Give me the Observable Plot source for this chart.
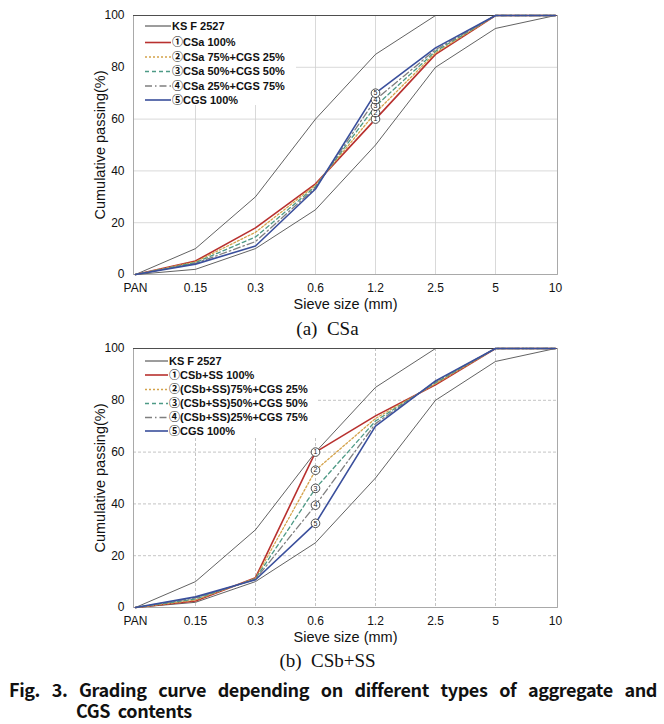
<!DOCTYPE html>
<html>
<head>
<meta charset="utf-8">
<script src="https://cdn.jsdelivr.net/npm/d3@7"></script>
<script src="https://cdn.jsdelivr.net/npm/@observablehq/plot@0.6"></script>
<style>
  html, body { margin: 0; padding: 0; background: #fff; }
  body { width: 664px; height: 724px; position: relative; overflow: hidden; }
  .abs { position: absolute; }
  .sub { font-family: "Liberation Serif", "Times New Roman", serif; font-size: 19px; color: #111; white-space: pre; }
  .cap { font-family: "Noto Sans CJK KR", "Noto Sans", sans-serif; font-weight: bold; font-size: 18px;
         line-height: 21px; color: #111; letter-spacing: -0.4px; }
</style>
</head>
<body>
<div id="panelA" class="abs" style="left:0;top:0"></div>
<div id="panelB" class="abs" style="left:0;top:333px"></div>
<div id="subA" class="abs sub" style="left:0;top:318px;width:655px;text-align:center">(a)  CSa</div>
<div id="subB" class="abs sub" style="left:0;top:650px;width:655px;text-align:center">(b)  CSb+SS</div>
<div id="cap1" class="abs cap" style="left:9px;top:679px;width:648px;text-align:justify;text-align-last:justify"></div>
<div id="cap2" class="abs cap" style="left:76px;top:700px;word-spacing:4px"></div>
<script>
// ---- data ----
const sieves = ["PAN", "0.15", "0.3", "0.6", "1.2", "2.5", "5", "10"];
const yTicks = [0, 20, 40, 60, 80, 100];
const ksLower = [0, 2, 10, 25, 50, 80, 95, 100];
const ksUpper = [0, 10, 30, 60, 85, 100, 100, 100];
const ksName = "KS F 2527";

const csaNames = ["①CSa 100%", "②CSa 75%+CGS 25%", "③CSa 50%+CGS 50%", "④CSa 25%+CGS 75%", "⑤CGS 100%"];
const csa1 = [0, 5.2, 18, 35, 60, 85, 100, 100];
const csa2 = [0, 4.9, 16.3, 34.5, 62.5, 85.6, 100, 100];
const csa3 = [0, 4.6, 14.5, 34, 65, 86.2, 100, 100];
const csa4 = [0, 4.3, 12.7, 33.5, 67.5, 86.8, 100, 100];
const csa5 = [0, 4, 11, 33, 70, 87.5, 100, 100];

const csbNames = ["①CSb+SS 100%", "②(CSb+SS)75%+CGS 25%", "③(CSb+SS)50%+CGS 50%", "④(CSb+SS)25%+CGS 75%", "⑤CGS 100%"];
const csb1 = [0, 2.5, 11.5, 60, 74, 86, 100, 100];
const csb2 = [0, 2.9, 11.3, 53, 73, 86.4, 100, 100];
const csb3 = [0, 3.3, 11.1, 46, 72, 86.8, 100, 100];
const csb4 = [0, 3.7, 10.9, 39.5, 71, 87.2, 100, 100];
const csb5 = [0, 4.1, 10.7, 32.5, 70, 87.5, 100, 100];

const labelDigits = ["1", "2", "3", "4", "5"];
const xTitle = "Sieve size (mm)";
const yTitle = "Cumulative passing(%)";
const captionLine1 = "Fig. 3. Grading curve depending on different types of aggregate and";
const captionLine2 = "CGS contents";

// ---- styles ----
const seriesStyles = [
  {stroke: "#b8312f", strokeWidth: 1.6, dash: null},
  {stroke: "#d4a24a", strokeWidth: 1.3, dash: "2,2"},
  {stroke: "#4e9a86", strokeWidth: 1.3, dash: "4,3"},
  {stroke: "#7f7f7f", strokeWidth: 1.3, dash: "7,3,1.5,3"},
  {stroke: "#3a4f9c", strokeWidth: 1.6, dash: null}
];
const font = "'Liberation Sans', Arial, 'Noto Sans CJK KR', sans-serif";

function toRows(vals) { return vals.map((v, i) => ({sieve: sieves[i], value: v})); }

function makePanel(series, labelAt, dashedGrid) {
  const gridStyle = dashedGrid
    ? {stroke: "#b5b5b5", strokeOpacity: 1, strokeWidth: 0.8, strokeDasharray: "3,2"}
    : {stroke: "#cfcfcf", strokeOpacity: 1, strokeWidth: 0.8};
  const marks = [
    Plot.gridY([20, 40, 60, 80], gridStyle),
    Plot.gridX(sieves.slice(1, -1), gridStyle),
    Plot.frame({stroke: "#a0a0a0", strokeWidth: 0.9}),
    Plot.ruleY([100], {stroke: "#444", strokeWidth: 0.9}),
    Plot.axisY(yTicks, {tickSize: 0, tickPadding: 9, label: null, fontSize: 12}),
    Plot.axisX(sieves, {tickSize: 0, tickPadding: 9, label: null, fontSize: 12}),
    Plot.text([xTitle], {frameAnchor: "bottom", textAnchor: "middle", lineAnchor: "middle", dy: 30, fontSize: 14.5}),
    Plot.text([yTitle], {frameAnchor: "left", textAnchor: "middle", lineAnchor: "middle", rotate: -90, dx: -33, fontSize: 14.5}),
    Plot.line(toRows(ksLower), {x: "sieve", y: "value", stroke: "#3a3a3a", strokeWidth: 0.8}),
    Plot.line(toRows(ksUpper), {x: "sieve", y: "value", stroke: "#3a3a3a", strokeWidth: 0.8})
  ];
  series.forEach((vals, i) => {
    const s = seriesStyles[i];
    marks.push(Plot.line(toRows(vals), {x: "sieve", y: "value", stroke: s.stroke, strokeWidth: s.strokeWidth, strokeDasharray: s.dash}));
  });
  const labelRows = series.map((vals, i) => ({sieve: sieves[labelAt], value: vals[labelAt], t: labelDigits[i]}));
  marks.push(Plot.dot(labelRows, {x: "sieve", y: "value", r: 4.3, fill: "white", stroke: "#222", strokeWidth: 0.8}));
  marks.push(Plot.text(labelRows, {x: "sieve", y: "value", text: "t", fontSize: 7, fill: "#222"}));
  return Plot.plot({
    width: 664, height: 322,
    marginTop: 15, marginBottom: 48, marginLeft: 133, marginRight: 107,
    x: {type: "point", domain: sieves, padding: 0, axis: null},
    y: {domain: [0, 100], axis: null},
    style: {fontFamily: font, fontSize: "12px", color: "#111", background: "white"},
    marks
  });
}

function makeLegend(names, rowYs, lineX0, lineX1, textX, w, h) {
  const svg = d3.create("svg").attr("width", w).attr("height", h);
  svg.append("rect").attr("width", w).attr("height", h).attr("fill", "white");
  const entries = [{name: ksName, stroke: "#3a3a3a", strokeWidth: 1, dash: null}]
    .concat(names.map((n, i) => ({name: n, ...seriesStyles[i]})));
  entries.forEach((e, i) => {
    svg.append("line").attr("x1", lineX0).attr("x2", lineX1).attr("y1", rowYs[i]).attr("y2", rowYs[i])
      .attr("stroke", e.stroke).attr("stroke-width", e.strokeWidth).attr("stroke-dasharray", e.dash);
    svg.append("text").attr("x", textX).attr("y", rowYs[i]).attr("dy", "0.36em")
      .attr("font-family", font).attr("font-weight", "bold").attr("font-size", 11).attr("fill", "#111")
      .text(e.name);
  });
  return svg.node();
}

const panelA = document.getElementById("panelA");
panelA.appendChild(makePanel([csa1, csa2, csa3, csa4, csa5], 4, false));
const legA = makeLegend(csaNames, [10, 26.5, 41, 55.5, 70, 84], 11, 37, 38, 162, 89);
legA.style.position = "absolute"; legA.style.left = "134px"; legA.style.top = "16px";
panelA.appendChild(legA);

const panelB = document.getElementById("panelB");
panelB.appendChild(makePanel([csb1, csb2, csb3, csb4, csb5], 3, true));
const legB = makeLegend(csbNames, [12, 26, 40.5, 54.5, 68.5, 82], 11, 34, 35, 184, 89);
legB.style.position = "absolute"; legB.style.left = "134px"; legB.style.top = "16px";
panelB.appendChild(legB);

// caption
document.getElementById("cap1").textContent = captionLine1;
document.getElementById("cap2").textContent = captionLine2;
</script>
</body>
</html>
